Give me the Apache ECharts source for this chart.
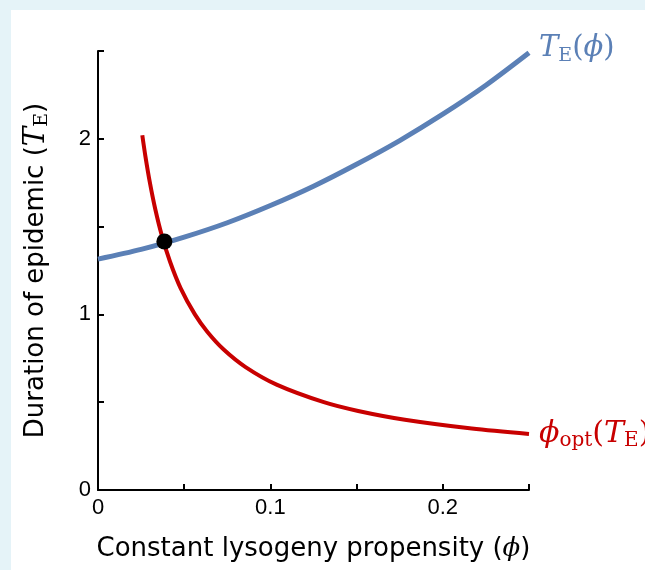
<!DOCTYPE html>
<html>
<head>
<meta charset="utf-8">
<script src="https://cdn.jsdelivr.net/npm/echarts@6/dist/echarts.min.js"></script>
<style>
html,body{margin:0;padding:0;width:645px;height:570px;background:#e5f3f8;overflow:hidden;}
#chart{position:absolute;left:11px;top:10px;width:634px;height:560px;background:#ffffff;}
</style>
</head>
<body>
<div id="chart"></div>
<script>
// Blue curve: T_E(phi)
const bluePhi = [0, 0.025, 0.05, 0.075, 0.1, 0.125, 0.15, 0.175, 0.2, 0.225, 0.25];
const blueT   = [1.315, 1.37, 1.44, 1.522, 1.62, 1.73, 1.855, 1.99, 2.14, 2.305, 2.49];
// Red curve: phi_opt(T_E)
const redPhi = [0.0257, 0.0275, 0.0301, 0.0332, 0.037, 0.0418, 0.0479, 0.0562, 0.0635, 0.0729, 0.0856, 0.1036, 0.131, 0.1509, 0.178, 0.2168, 0.25];
const redT   = [2.02, 1.9, 1.75, 1.6, 1.45, 1.3, 1.15, 1.0, 0.9, 0.8, 0.7, 0.6, 0.5, 0.45, 0.4, 0.35, 0.319];
// Intersection point
const dotPhi = [0.0385];
const dotT = [1.415];
const xTickLabels = ['0', '0.1', '0.2'];
const yTickLabels = ['0', '1', '2'];

const BLUE = '#5b80b6';
const RED = '#c80000';
const serif = '"DejaVu Serif", "Liberation Serif", serif';
const sans = '"DejaVu Sans", sans-serif';
const arial = '"Liberation Sans", Arial, sans-serif';

const chart = echarts.init(document.getElementById('chart'));
const mk = (xs, ys) => xs.map((x, i) => [x, ys[i]]);

function labelRich(color, size) {
  return {
    it: {fontFamily: serif, fontStyle: 'italic', fontSize: size, color: color, lineHeight: 34, verticalAlign: 'middle'},
    rm: {fontFamily: serif, fontSize: size, color: color, lineHeight: 34, verticalAlign: 'middle'},
    sub: {fontFamily: serif, fontSize: Math.round(size * 0.66), color: color, lineHeight: 34, verticalAlign: 'bottom', padding: [11, 0, 0, 0]}
  };
}

chart.setOption({
  animation: false,
  grid: {left: 87, right: 116, top: 41, bottom: 80, containLabel: false},
  xAxis: {
    type: 'value', min: 0, max: 0.25, interval: 0.05,
    axisLine: {show: true, lineStyle: {color: '#000', width: 2}},
    axisTick: {show: true, inside: true, length: 6, lineStyle: {color: '#000', width: 2}},
    splitLine: {show: false},
    axisLabel: {
      color: '#000', fontSize: 22, fontFamily: arial, margin: 7,
      formatter: v => {
        const s = xTickLabels.find(t => Math.abs(parseFloat(t) - v) < 1e-9);
        return s === undefined ? '' : s;
      }
    },
    name: '{a|Constant lysogeny propensity (}{f|ϕ}{a|)}',
    nameLocation: 'middle', nameGap: 46,
    nameTextStyle: {
      rich: {
        a: {fontSize: 26, fontFamily: sans, color: '#000'},
        f: {fontSize: 26, fontFamily: serif, fontStyle: 'italic', color: '#000'}
      }
    }
  },
  yAxis: {
    type: 'value', min: 0, max: 2.5, interval: 0.5,
    axisLine: {show: true, lineStyle: {color: '#000', width: 2}},
    axisTick: {show: true, inside: true, length: 6, lineStyle: {color: '#000', width: 2}},
    splitLine: {show: false},
    axisLabel: {
      color: '#000', fontSize: 22, fontFamily: arial, margin: 7,
      formatter: v => {
        const s = yTickLabels.find(t => Math.abs(parseFloat(t) - v) < 1e-9);
        return s === undefined ? '' : s;
      }
    },
    name: '{a|Duration of epidemic (}{t|T}{s|E}{a|)}',
    nameLocation: 'middle', nameGap: 46,
    nameTextStyle: {
      rich: {
        a: {fontSize: 26, fontFamily: sans, color: '#000', lineHeight: 32, verticalAlign: 'middle'},
        t: {fontSize: 29, fontFamily: serif, fontStyle: 'italic', color: '#000', lineHeight: 32, verticalAlign: 'middle'},
        s: {fontSize: 19, fontFamily: serif, color: '#000', lineHeight: 32, verticalAlign: 'bottom', padding: [9, 0, 0, 0]}
      }
    }
  },
  series: [
    {
      type: 'line', data: mk(bluePhi, blueT), smooth: 0.3, showSymbol: false,
      lineStyle: {color: BLUE, width: 5}, z: 3,
      endLabel: {
        show: true, distance: 10, offset: [0, -4],
        formatter: '{it|T}{sub|E}{rm|(}{it|ϕ}{rm|)}',
        rich: labelRich(BLUE, 29)
      }
    },
    {
      type: 'line', data: mk(redPhi, redT), smooth: 0.3, showSymbol: false,
      lineStyle: {color: RED, width: 4}, z: 2,
      endLabel: {
        show: true, distance: 10, offset: [0, 0],
        formatter: '{it|ϕ}{sub|opt}{rm|(}{it|T}{sub|E}{rm|)}',
        rich: labelRich(RED, 30)
      }
    },
    {
      type: 'scatter', data: mk(dotPhi, dotT), symbol: 'circle', symbolSize: 16,
      itemStyle: {color: '#000', opacity: 1}, z: 5
    }
  ]
});
</script>
</body>
</html>
